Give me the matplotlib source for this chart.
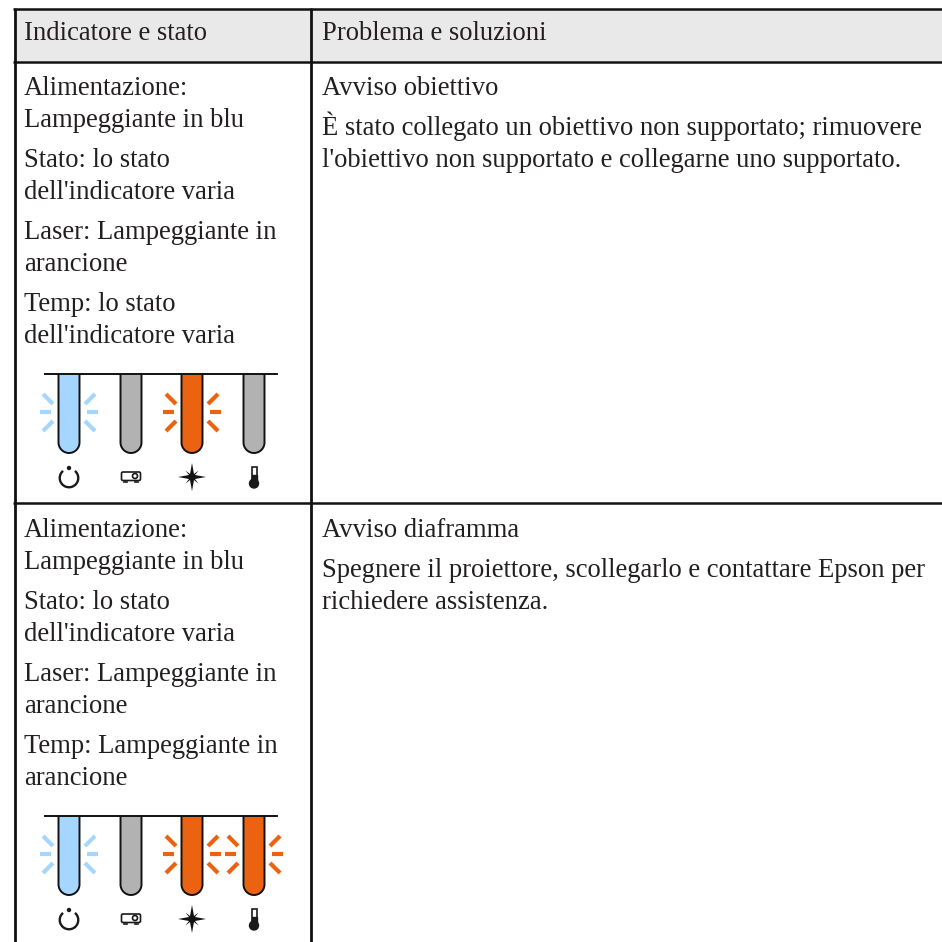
import matplotlib
matplotlib.use("Agg")
import matplotlib.pyplot as plt
from matplotlib.patches import Circle, Arc, FancyBboxPatch, PathPatch, Polygon, Rectangle
from matplotlib.path import Path

plt.rcParams["font.family"] = ["Liberation Serif", "DejaVu Serif"]

BLUE = "#a5d6ff"
GREY = "#b2b2b2"
ORANGE = "#eb6311"
INK = "#231f20"
FS = 19.2

headers = ["Indicatore e stato", "Problema e soluzioni"]

left_lines = [
    "Alimentazione:", "Lampeggiante in blu",
    "Stato: lo stato", "dell'indicatore varia",
    "Laser: Lampeggiante in", "arancione",
]
row1_left = left_lines + ["Temp: lo stato", "dell'indicatore varia"]
row2_left = left_lines + ["Temp: Lampeggiante in", "arancione"]

row1_right = [
    "Avviso obiettivo",
    "È stato collegato un obiettivo non supportato; rimuovere",
    "l'obiettivo non supportato e collegarne uno supportato.",
]
row2_right = [
    "Avviso diaframma",
    "Spegnere il proiettore, scollegarlo e contattare Epson per",
    "richiedere assistenza.",
]

row1_colors = [BLUE, GREY, ORANGE, GREY]
row1_blink = [True, False, True, False]
row2_colors = [BLUE, GREY, ORANGE, ORANGE]
row2_blink = [True, False, True, True]

# layout, in pixels of the 942 px picture
left_base = [0, 32, 72, 104, 144, 176, 216, 248]
right_base = [0, 40, 72]
tube_x = [69, 131, 192, 254]

fig = plt.figure(figsize=(9.42, 9.42), dpi=100)
ax = fig.add_axes([0, 0, 1, 1])
ax.set_xlim(0, 942)
ax.set_ylim(942, 0)
ax.axis("off")


def draw_tube(x, top, color, blink):
    hw = 10.5
    bottom = top + 79
    mid = bottom - hw
    k = hw * 0.55
    verts = [(x - hw, top), (x - hw, mid), (x - hw, mid + k), (x - k, bottom), (x, bottom),
             (x + k, bottom), (x + hw, mid + k), (x + hw, mid), (x + hw, top)]
    codes = [Path.MOVETO, Path.LINETO, Path.CURVE4, Path.CURVE4, Path.CURVE4,
             Path.CURVE4, Path.CURVE4, Path.CURVE4, Path.LINETO]
    ax.add_patch(PathPatch(Path(verts, codes), fc=color, ec="#111111", lw=1.4, zorder=2))
    if blink:
        cy = top + 38
        for s in (-1, 1):
            ax.plot([x + s * 18, x + s * 29], [cy, cy], color=color, lw=3, solid_capstyle="butt")
            ax.plot([x + s * 16, x + s * 26], [cy - 8, cy - 18], color=color, lw=3, solid_capstyle="butt")
            ax.plot([x + s * 16, x + s * 26], [cy + 9, cy + 19], color=color, lw=3, solid_capstyle="butt")


def draw_icons(top):
    cy = top + 103
    # power
    ax.add_patch(Arc((tube_x[0], cy + 1), 18.5, 18.5, theta1=-50, theta2=230, color="#1a1a1a", lw=1.7))
    ax.add_patch(Circle((tube_x[0], cy - 9), 2.2, color="#1a1a1a", lw=0))
    # projector
    x = tube_x[1]
    ax.add_patch(FancyBboxPatch((x - 9.5, cy - 5), 19, 8.5, boxstyle="round,pad=0,rounding_size=1.5",
                                fc="white", ec="#1a1a1a", lw=1.2))
    ax.add_patch(Circle((x + 4, cy - 1), 2.5, fc="white", ec="#1a1a1a", lw=1.2))
    ax.plot([x - 7, x - 4], [cy + 5, cy + 5], color="#1a1a1a", lw=1.2)
    ax.plot([x + 4, x + 7], [cy + 5, cy + 5], color="#1a1a1a", lw=1.2)
    # laser star
    x = tube_x[2]
    a, b, c = 14, 3.0, 6.5
    ax.add_patch(Polygon([(x - a, cy), (x - b, cy - b + 1), (x - c, cy - c), (x - b + 1, cy - b), (x, cy - a),
                          (x + b - 1, cy - b), (x + c, cy - c), (x + b, cy - b + 1), (x + a, cy), (x + b, cy + b - 1),
                          (x + c, cy + c), (x + b - 1, cy + b), (x, cy + a), (x - b + 1, cy + b),
                          (x - c, cy + c), (x - b, cy + b - 1)], fc="#111111", ec="none"))
    # thermometer
    x = tube_x[3]
    ax.add_patch(Rectangle((x - 2.5, cy - 10.5), 5, 15, fc="white", ec="#1a1a1a", lw=1.2))
    ax.add_patch(Rectangle((x - 2.5, cy - 2), 5, 7, fc="#1a1a1a", ec="#1a1a1a", lw=1))
    ax.add_patch(Circle((x, cy + 6.5), 5.2, color="#1a1a1a", lw=0))


def draw_row(base, left, right, top, colors, blink):
    for txt, dy in zip(left, left_base):
        ax.text(24, base + dy, txt, fontsize=FS, color=INK, va="baseline")
    for txt, dy in zip(right, right_base):
        ax.text(322, base + dy, txt, fontsize=FS, color=INK, va="baseline")
    ax.plot([45, 277], [top, top], color="#111111", lw=1.4, zorder=3)
    for x, col, bl in zip(tube_x, colors, blink):
        draw_tube(x, top, col, bl)
    draw_icons(top)


# header band and grid
ax.add_patch(Rectangle((14, 9), 928, 52, fc="#e9e9e9", ec="none", zorder=0))
for y in (9, 61.5, 503):
    ax.plot([13, 942], [y, y], color="#111111", lw=1.8, solid_capstyle="butt")
for x in (14.5, 311):
    ax.plot([x, x], [8, 942], color="#111111", lw=2, solid_capstyle="butt")

ax.text(24, 40, headers[0], fontsize=FS, color=INK, va="baseline")
ax.text(322, 40, headers[1], fontsize=FS, color=INK, va="baseline")

draw_row(95, row1_left, row1_right, 374, row1_colors, row1_blink)
draw_row(537, row2_left, row2_right, 816, row2_colors, row2_blink)

fig.savefig("out.png", dpi=100)
